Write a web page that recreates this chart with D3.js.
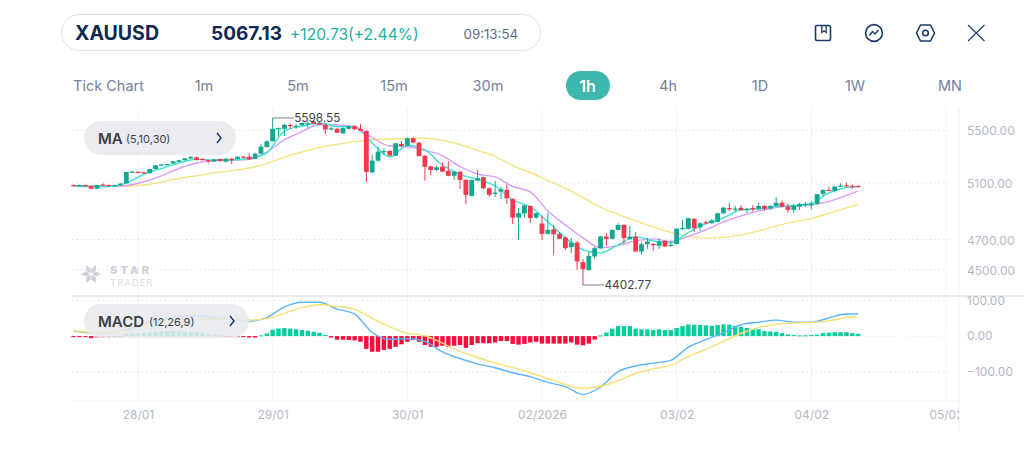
<!DOCTYPE html>
<html>
<head>
<meta charset="utf-8">
<title>XAUUSD 1h</title>
<script src="https://cdn.jsdelivr.net/npm/d3@7/dist/d3.min.js"></script>
<style>
html,body{margin:0;padding:0;background:#fff;overflow:hidden}
svg{display:block}
text{font-family:"Inter","Open Sans",sans-serif}
</style>
</head>
<body>
<svg id="chart" width="1024" height="471"></svg>
<script>
// Hourly candles, one entry per bar
const opens = [
5084,5080,5083,5077,5057,5088,5084,5079,5082,5096,
5178,5181,5177,5171,5202,5231,5235,5243,5256,5268,
5282,5290,5278,5270,5258,5278,5258,5280,5278,5295,
5295,5278,5318,5369,5414,5510,5512,5542,5528,5540,
5550,5570,5558,5544,5510,5512,5476,5512,5532,5512,
5494,5178,5265,5331,5339,5303,5393,5380,5437,5403,
5302,5222,5195,5220,5189,5152,5182,5121,5005,5116,
5141,5060,5019,5036,5048,4983,4851,4880,4933,4851,
4810,4739,4770,4739,4714,4649,4680,4550,4499,4587,
4642,4721,4705,4766,4800,4703,4720,4620,4669,4671,
4658,4691,4658,4671,4771,4773,4842,4784,4819,4812,
4821,4881,4918,4909,4920,4903,4918,4912,4933,4915,
4933,4956,4928,4905,4928,4940,4942,4947,5019,5048,
5041,5072,5082,5077,5077];
const highs = [
5088,5087,5086,5079,5086,5095,5087,5087,5096,5182,
5187,5185,5182,5204,5232,5240,5243,5262,5270,5284,
5300,5295,5283,5274,5278,5281,5284,5284,5297,5300,
5322,5325,5395,5420,5598.55,5522,5550,5555,5552,5562,
5572,5582,5568,5550,5532,5518,5522,5537,5540,5550,
5498,5312,5370,5360,5344,5400,5416,5445,5446,5408,
5308,5226,5228,5250,5262,5190,5188,5125,5122,5195,
5146,5066,5113,5069,5088,4988,4919,4942,4938,4885,
4863,4884,4800,4750,4722,4712,4690,4570,4620,4650,
4725,4745,4770,4812,4805,4793,4750,4680,4712,4676,
4708,4695,4691,4775,4835,4850,4847,4818,4830,4840,
4885,4925,4954,4933,4938,4918,4938,4954,4940,4938,
4995,4970,4950,4945,4955,4962,4968,5020,5052,5070,
5075,5095,5102,5088,5082];
const lows = [
5075,5076,5076,5055,5052,5080,5075,5075,5079,5094,
5174,5170,5166,5168,5200,5228,5232,5241,5252,5266,
5278,5265,5268,5245,5254,5258,5252,5240,5274,5284,
5270,5275,5316,5366,5412,5455,5455,5510,5512,5537,
5520,5548,5540,5470,5500,5478,5472,5508,5504,5492,
5103,5170,5258,5308,5302,5300,5372,5376,5398,5298,
5116,5158,5185,5178,5148,5120,5055,4947,5002,5112,
5050,4998,4998,4983,4947,4807,4698,4849,4814,4842,
4698,4735,4598,4702,4631,4611,4499,4402.77,4493,4572,
4638,4655,4702,4762,4675,4698,4618,4598,4638,4624,
4638,4650,4651,4668,4766,4770,4752,4759,4805,4808,
4818,4878,4897,4894,4900,4882,4895,4905,4897,4908,
4930,4925,4885,4882,4905,4928,4908,4944,5005,5040,
5030,5068,5072,5055,5066];
const closes = [
5078,5083,5079,5057,5084,5081,5079,5083,5094,5180,
5183,5175,5170,5202,5230,5236,5239,5260,5268,5283,
5293,5270,5272,5265,5275,5262,5280,5268,5295,5287,
5275,5318,5372,5413,5512,5518,5544,5534,5535,5558,
5556,5552,5544,5507,5516,5481,5518,5532,5508,5496,
5180,5265,5334,5338,5303,5398,5377,5437,5403,5300,
5219,5195,5215,5182,5152,5182,5121,5012,5121,5134,
5060,5012,5029,5053,4988,4851,4882,4936,4847,4882,
4739,4766,4736,4705,4642,4680,4554,4504,4591,4642,
4721,4705,4766,4800,4710,4720,4620,4669,4687,4662,
4687,4653,4664,4775,4780,4847,4778,4812,4810,4830,
4881,4921,4912,4915,4903,4914,4912,4933,4912,4933,
4956,4928,4905,4933,4947,4947,4947,5017,5048,5043,
5072,5079,5075,5072,5070];

// Indicator lines are stored at these bar positions
const lineBars = [0,3,6,9,12,15,18,21,24,27,30,33,36,39,42,45,48,51,54,57,60,63,66,69,72,75,78,81,84,87,90,93,96,99,102,105,108,111,114,117,120,123,126,129,132,134];
const ma5 = [5077,5073,5073,5099,5162,5206,5247,5276,5270,5270,5281,5324,5494,5534,5558,5530,5526,5401,5293,5381,5347,5232,5162,5125,5077,4976,4926,4821,4712,4631,4611,4664,4718,4691,4678,4749,4810,4849,4905,4912,4929,4936,4950,5027,5066,5073];
const ma10 = [5077,5073,5073,5080,5108,5151,5206,5247,5265,5270,5275,5331,5424,5490,5546,5542,5530,5443,5377,5371,5343,5304,5221,5165,5143,5073,5034,4898,4800,4712,4644,4661,4691,4705,4688,4722,4766,4821,4863,4898,4922,4933,4940,4965,5008,5041];
const ma30 = [5077,5077,5077,5077,5084,5106,5132,5152,5173,5189,5210,5243,5293,5331,5366,5389,5411,5426,5432,5434,5438,5420,5389,5343,5297,5228,5176,5117,5059,4994,4922,4873,4828,4786,4749,4722,4710,4715,4732,4759,4793,4821,4845,4880,4919,4944];
const dif = [14,9,9,18,35,46,55,57,52,47,42,52,82,95,95,76,62,10,-9,-7,-15,-44,-63,-78,-89,-103,-114,-130,-142,-164,-143,-100,-84,-76,-68,-31,-10,9,32,39,45,39,39,51,62,62];
const dea = [15,11,10,15,29,41,47,48,48,47,45,49,64,80,88,83,75,50,26,8,1,-20,-43,-60,-75,-88,-103,-119,-136,-147,-141,-125,-105,-92,-82,-57,-37,-15,8,24,33,37,38,43,52,55];

// MACD histogram, one entry per bar
const hist = [
-3,-3,-3,-6,-4,-4,-4,-4,-3,7,
8,8,9,10,12,14,14,14,14,13,
12,11,8,6,3,2,-2,-3,-3,-3,
-4,-4,2,7.5,18,21,22.5,21,19,17,
15,12,9.4,3,-4,-10,-10,-11,-12,-16,
-36,-44,-44,-39,-36,-30,-23,-16,-11,-16,
-25,-30,-30,-27,-30,-27,-25,-33,-25,-20,
-20,-20,-18,-14,-14,-22,-24,-22,-18,-16,
-21,-21,-21,-21,-21,-18,-24,-26,-21,-10,
2,10,21,28,28,28,21,19,19,17,
19,17,17,23,28,33,32,31,30,29,
31,33,32,29,26,23,19,19,14,13,
12,8.5,4.5,3,2,2,3,4,8.5,9.5,
11,11,11,8.5,6.5];

// Axis ticks and interface labels
const priceTicks = [5500,5100,4700,4500];
const macdTicks = [100,0,-100];
const dateBars = [11,34,57,80,103,126,149];
const dateLabels = ["28/01","29/01","30/01","02/2026","03/02","04/02","05/02"];
const tabs = ["Tick Chart","1m","5m","15m","30m","1h","4h","1D","1W","MN"];
const tabCentres = [108.5,204,298,394,488,587.5,668,760,855,950];

const svg = d3.select("#chart");
const FONT = '"Inter","Open Sans",sans-serif';

const x = d3.scaleLinear().domain([11,126]).range([138,811.3]);
const y = d3.scaleLog().domain([5500,4402.77]).range([130.3,285]);
const yM = d3.scaleLinear().domain([100,-100]).range([300.5,371.7]);

const plotLeft = 72, plotRight = 959, priceTop = 108, dividerY = 296, plotBottom = 401;
const GRID = "#f2f3f6", DOT = "#d8dbe1", AXIS = "#b3b9c5";

svg.append("defs").append("clipPath").attr("id","plot")
  .append("rect").attr("x",plotLeft).attr("y",0).attr("width",plotRight-plotLeft).attr("height",471);

// vertical day lines
const dayLines = svg.append("g");
dayLines.selectAll("line").data(dateBars).join("line")
  .attr("x1",d=>x(d)).attr("x2",d=>x(d)).attr("y1",priceTop).attr("y2",plotBottom)
  .attr("stroke",GRID).attr("stroke-width",1);

// dotted horizontal levels
const levels = svg.append("g").attr("stroke",DOT).attr("stroke-width",1).attr("stroke-dasharray","1.2 3.2");
levels.selectAll("line.p").data(priceTicks).join("line").attr("class","p")
  .attr("x1",plotLeft).attr("x2",950).attr("y1",d=>y(d)).attr("y2",d=>y(d));
levels.selectAll("line.m").data(macdTicks).join("line").attr("class","m")
  .attr("x1",plotLeft).attr("x2",950).attr("y1",d=>yM(d)).attr("y2",d=>yM(d));

// panel frame lines
svg.append("line").attr("x1",plotRight).attr("x2",plotRight).attr("y1",priceTop).attr("y2",432).attr("stroke","#eef0f3");
svg.append("line").attr("x1",plotLeft).attr("x2",plotRight).attr("y1",plotBottom).attr("y2",plotBottom).attr("stroke","#f0f1f4").attr("stroke-width",1.2);

// watermark
const mark = svg.append("g").attr("fill","#cdd1d7");
d3.range(6).forEach(k=>{
  mark.append("path").attr("transform",`translate(91,274) rotate(${k*60+30})`).attr("d","M0,-1 L2.6,-5 L0,-10 L-2.6,-5 Z");
});
mark.append("text").attr("x",110).attr("y",274).attr("font-size",11).attr("font-weight",800).attr("letter-spacing",3.2).text("STAR");
mark.append("text").attr("x",110).attr("y",285.5).attr("font-size",9.5).attr("letter-spacing",1).attr("fill","#d9dce1").text("TRADER");

// moving averages run beneath the candles
const priceLine = d3.line().x((d,k)=>x(lineBars[k])).y(d=>y(d)).curve(d3.curveMonotoneX);
[[ma30,"#f5e483"],[ma10,"#d99df6"],[ma5,"#3fe2d2"]].forEach(([s,c])=>{
  svg.append("path").attr("d",priceLine(s)).attr("fill","none").attr("stroke",c).attr("stroke-width",1.4);
});

// candles
const UP = "#12a792", DOWN = "#f6384e";
const bars = d3.range(opens.length);
const candles = svg.append("g");
candles.selectAll("line").data(bars).join("line")
  .attr("x1",i=>x(i)).attr("x2",i=>x(i))
  .attr("y1",i=>y(highs[i])).attr("y2",i=>y(lows[i]))
  .attr("stroke",i=>closes[i]>=opens[i]?UP:DOWN).attr("stroke-width",1);
candles.selectAll("rect").data(bars).join("rect")
  .attr("x",i=>x(i)-2.4).attr("width",4.8)
  .attr("y",i=>y(Math.max(opens[i],closes[i])))
  .attr("height",i=>Math.max(1.2,Math.abs(y(opens[i])-y(closes[i]))))
  .attr("fill",i=>closes[i]>=opens[i]?UP:DOWN);

// extreme price call-outs, taken from the candle data
const hiBar = d3.maxIndex(highs), loBar = d3.minIndex(lows);
const callouts = [[hiBar,highs[hiBar]],[loBar,lows[loBar]]];
callouts.forEach(([b,v])=>{
  svg.append("line").attr("x1",x(b)).attr("x2",x(b)+21).attr("y1",y(v)).attr("y2",y(v)).attr("stroke","#7c7f86").attr("stroke-width",1);
  svg.append("text").attr("x",x(b)+21.5).attr("y",y(v)+4.3).attr("font-size",11.8).attr("fill","#3f4248").text(v.toFixed(2));
});

// horizontal panel divider
svg.append("line").attr("x1",plotLeft).attr("x2",1024).attr("y1",dividerY).attr("y2",dividerY).attr("stroke","#e3e5ec").attr("stroke-width",1.6);

// MACD histogram and signal lines
svg.append("g").selectAll("rect").data(bars).join("rect")
  .attr("x",i=>x(i)-2.2).attr("width",4.4)
  .attr("y",i=>hist[i]>0?yM(hist[i]):yM(0))
  .attr("height",i=>Math.max(1,Math.abs(yM(hist[i])-yM(0))))
  .attr("fill",i=>hist[i]>0?"#04cf9c":"#ff0a3c");
const macdLine = d3.line().x((d,k)=>x(lineBars[k])).y(d=>yM(d)).curve(d3.curveMonotoneX);
[[dif,"#5cb5fb"],[dea,"#f4e074"]].forEach(([s,c])=>{
  svg.append("path").attr("d",macdLine(s)).attr("fill","none").attr("stroke",c).attr("stroke-width",1.4);
});

// axes
const axisFmt = d=>d.toFixed(2).replace("-","\u2212");
function styleAxis(g){
  g.select(".domain").remove();
  g.selectAll("text").attr("fill",AXIS).attr("font-size",12).attr("font-family",FONT);
}
svg.append("g").attr("transform","translate(967,0.6)")
  .call(d3.axisRight(y).tickValues(priceTicks).tickFormat(axisFmt).tickSize(0).tickPadding(0)).call(styleAxis);
svg.append("g").attr("transform","translate(967,0)")
  .call(d3.axisRight(yM).tickValues(macdTicks).tickFormat(axisFmt).tickSize(0).tickPadding(0)).call(styleAxis);
svg.append("g").attr("transform","translate(0,407)").attr("clip-path","url(#plot)")
  .call(d3.axisBottom(x).tickValues(dateBars).tickFormat((d,k)=>dateLabels[k]).tickSize(0).tickPadding(3)).call(styleAxis);

// indicator chips sit over the plot and veil what lies under them
function chip(px,py,w,name,params,nameW){
  const g = svg.append("g");
  g.append("rect").attr("x",px).attr("y",py).attr("width",w).attr("height",34).attr("rx",17)
    .attr("fill","#e8e9ec").attr("fill-opacity",.86);
  g.append("text").attr("x",px+14).attr("y",py+22.5).attr("font-size",15).attr("font-weight",600).attr("fill","#3b3e45").text(name);
  g.append("text").attr("x",px+14+nameW).attr("y",py+22).attr("font-size",11).attr("fill","#3b3e45").text(params);
  g.append("path").attr("d",`M${px+w-19},${py+12} l4,5 l-4,5`).attr("fill","none").attr("stroke","#1b3358").attr("stroke-width",1.4);
}
chip(84,121,152,"MA","(5,10,30)",28);
chip(84,304,165,"MACD","(12,26,9)",51);

// quote bar
const NAVY = "#0e2a52";
svg.append("rect").attr("x",61.5).attr("y",14.5).attr("width",479).attr("height",36).attr("rx",18).attr("fill","#fff").attr("stroke","#dfe3e8");
svg.append("text").attr("x",75).attr("y",40).attr("font-size",19.5).attr("font-weight",700).attr("fill",NAVY).text("XAUUSD");
svg.append("text").attr("x",211).attr("y",40).attr("font-size",19).attr("font-weight",700).attr("fill",NAVY).text("5067.13");
svg.append("text").attr("x",290).attr("y",39.5).attr("font-size",15.6).attr("fill","#21b19f").text("+120.73(+2.44%)");
svg.append("text").attr("x",463.5).attr("y",39).attr("font-size",13.3).attr("fill","#5c6b84").text("09:13:54");

// timeframe selector
svg.append("rect").attr("x",566).attr("y",71).attr("width",44).attr("height",29).attr("rx",14.5).attr("fill","#3eb7ac");
svg.append("g").selectAll("text").data(tabs).join("text")
  .attr("x",(d,k)=>tabCentres[k]).attr("y",d=>d==="1h"?91.5:90.5).attr("text-anchor","middle")
  .attr("font-size",d=>d==="1h"?16:14.5)
  .attr("font-weight",d=>d==="1h"?600:400)
  .attr("fill",d=>d==="1h"?"#fff":"#75829b").text(d=>d);

// toolbar icons
const icons = svg.append("g").attr("fill","none").attr("stroke","#1c3a66").attr("stroke-width",1.6);
icons.append("rect").attr("x",815.5).attr("y",25.5).attr("width",15).attr("height",15).attr("rx",1.5);
icons.append("path").attr("d","M821.8,25.5 V32.5 L824,30.8 L826.2,32.5 V25.5").attr("stroke-width",1.3);
icons.append("circle").attr("cx",874).attr("cy",33).attr("r",8.4);
icons.append("path").attr("d","M869.5,35.5 L872.5,31.5 L875,34 L878.5,30").attr("stroke-width",1.4);
icons.append("path").attr("d","M920.5,25 H930.5 L934.5,33 L930.5,41 H920.5 L916.5,33 Z").attr("stroke-linejoin","round");
icons.append("circle").attr("cx",925.5).attr("cy",33).attr("r",2.8);
icons.append("path").attr("d","M968,25 L984.5,41 M984.5,25 L968,41").attr("stroke-width",1.1);
</script>
</body>
</html>
